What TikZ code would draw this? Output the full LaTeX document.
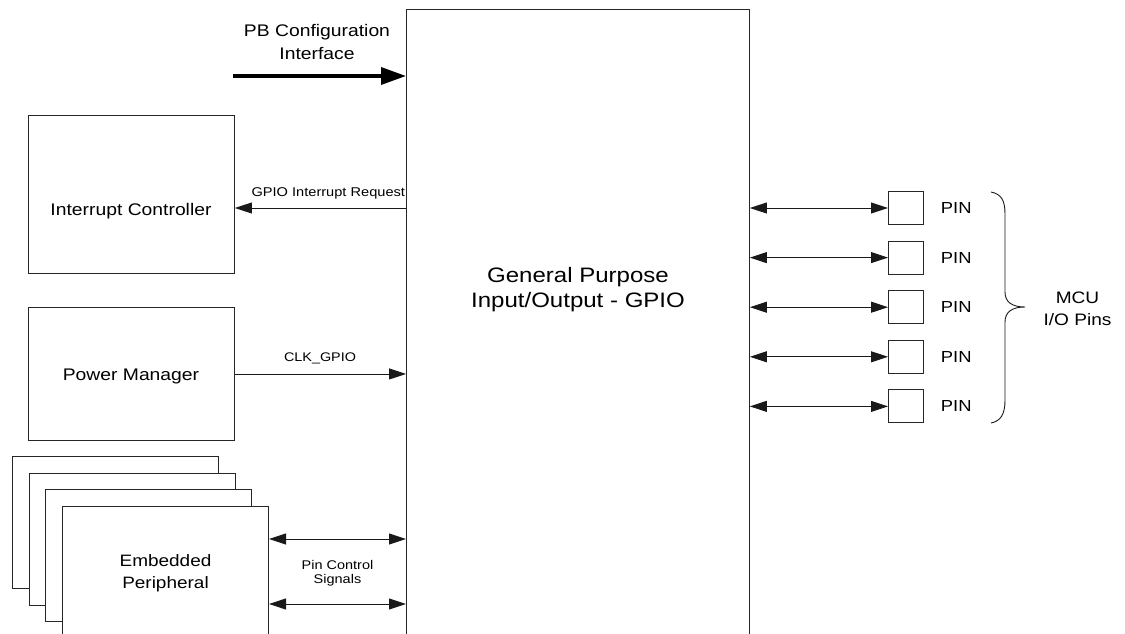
\documentclass[tikz,border=0pt]{standalone}
\usepackage{fontspec}
\setmainfont{Liberation Sans}[FakeStretch=1.15]
\usetikzlibrary{arrows.meta}
\newcommand\myfs[2]{\fontsize{#1}{#2}\selectfont}
\tikzset{
  box/.style={draw=black!85, line width=0.9pt, fill=white, inner sep=0pt, anchor=north west},
  pinbox/.style={draw=black!85, line width=0.9pt, fill=white, inner sep=0pt, anchor=west, minimum width=35pt, minimum height=33pt},
  conn/.style={draw=black!90, line width=0.9pt},
  txt/.style={inner sep=0pt, outer sep=0pt, text=black},
  >={Triangle[length=17pt,width=11pt]},
}
\begin{document}
\begin{tikzpicture}[x=1pt,y=-1pt]
\useasboundingbox (0,0) rectangle (1125,634);
\clip (0,0) rectangle (1125,634);

% main GPIO block (open at the bottom of the picture)
\node[box, minimum width=343pt, minimum height=700pt] (gpio) at (406,9) {};
\node[txt, font=\myfs{20.9}{25}, align=center] (gpiot) at (578,290) {General Purpose\\Input/Output - GPIO};

% PB configuration interface
\coordinate (pbs) at (233,76);
\draw[line width=3.5pt, -{Triangle[length=25pt,width=17pt]}] (pbs) -- (gpio.west |- pbs);
\node[txt, font=\myfs{16.8}{23.3}, align=center] (pbt) at (317,42.2) {PB Configuration\\Interface};

% Interrupt controller
\node[box, minimum width=206pt, minimum height=158pt] (ic) at (28,115) {};
\node[txt, font=\myfs{16.8}{20}, anchor=base] (ict) at (131,215) {Interrupt Controller};
\draw[conn, ->] (gpio.west |- 0,208) -- (ic.east |- 0,208);
\node[txt, font=\myfs{12.7}{15}, anchor=base east] (irqt) at (405,196.7) {GPIO Interrupt Request};

% Power manager
\node[box, minimum width=206pt, minimum height=133pt] (pm) at (28,307) {};
\node[txt, font=\myfs{16.8}{20}, anchor=base] (pmt) at (131,380) {Power Manager};
\draw[conn, ->] (pm.east) -- (gpio.west |- pm.east);
\node[txt, font=\myfs{12.5}{15}, anchor=base] (clkt) at (320,361) {CLK\_GPIO};

% Embedded peripherals (stack)
\node[box, minimum width=206pt, minimum height=132pt] (p1) at (12,456) {};
\node[box, minimum width=206pt, minimum height=132pt] (p2) at (28.7,472.7) {};
\node[box, minimum width=206pt, minimum height=132pt] (p3) at (45.4,489.4) {};
\node[box, minimum width=206pt, minimum height=150pt] (p4) at (62.1,506.1) {};
\node[txt, font=\myfs{16.5}{21.5}, align=center] (p4t) at (165.5,573) {Embedded\\Peripheral};
\draw[conn, <->] (p4.east |- 0,539) -- (gpio.west |- 0,539);
\draw[conn, <->] (p4.east |- 0,604) -- (gpio.west |- 0,604);
\node[txt, font=\myfs{12.6}{14.3}, align=center] (pcs) at (337.5,573) {Pin Control\\Signals};

% Pins
\foreach \i/\y in {1/208,2/257.6,3/307.2,4/356.8,5/406.4}{
  \node[pinbox] (pin\i) at (888,\y) {};
  \draw[conn, <->] (gpio.east |- pin\i.west) -- (pin\i.west);
  \node[txt, font=\myfs{16}{19}] (pint\i) at (956.3,\y) {PIN};
}

% Brace
\draw[draw=black!90, line width=0.9pt]
  (991,192) .. controls (1001,194) and (1005,200) .. (1005,214)
  -- (1005,292) .. controls (1005,302) and (1012,307) .. (1025,307)
  .. controls (1012,307) and (1005,312) .. (1005,322)
  -- (1005,400) .. controls (1005,414) and (1001,421) .. (991,423);
\node[txt, font=\myfs{16.6}{22.6}, align=center] (mcu) at (1077.5,308.8) {MCU\\I/O Pins};
\end{tikzpicture}
\end{document}
